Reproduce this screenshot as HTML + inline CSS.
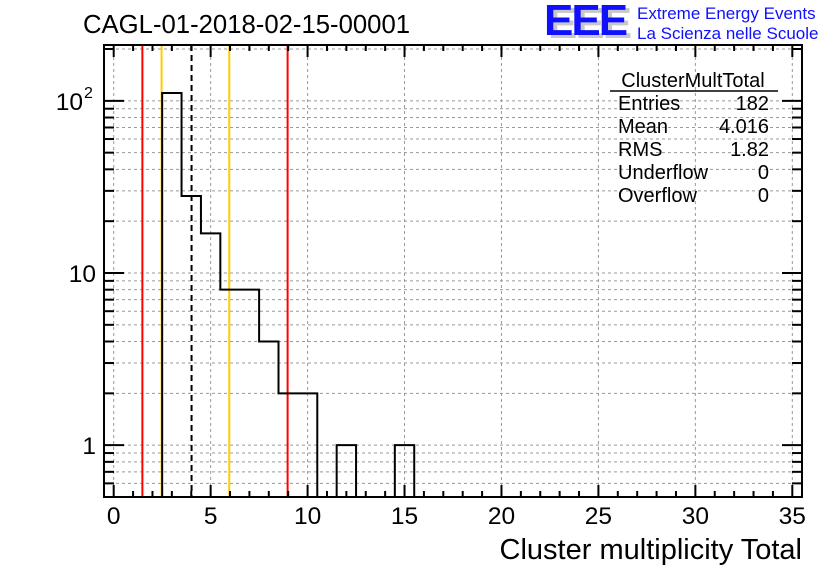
<!DOCTYPE html>
<html><head><meta charset="utf-8"><style>
body{margin:0;background:#fff;}
svg{display:block;font-family:"Liberation Sans",Arial,sans-serif;}
</style></head><body>
<svg id="chart" width="836" height="572" viewBox="0 0 836 572" xmlns="http://www.w3.org/2000/svg">
<rect width="836" height="572" fill="#fff"/>
<g id="grid"></g>
<g id="marks"></g>
<g id="axes"></g>
<text x="83" y="33" font-size="25.7">CAGL-01-2018-02-15-00001</text>
<g>
<text x="548" y="38" font-size="44" font-weight="bold" fill="#c8c8c8" letter-spacing="-2">EEE</text>
<text x="544" y="35" font-size="44" font-weight="bold" fill="#1010ff" letter-spacing="-2">EEE</text>
<text x="637" y="19" font-size="17" fill="#1010ff">Extreme Energy Events</text>
<text x="637" y="39" font-size="17" fill="#1010ff">La Scienza nelle Scuole</text>
</g>
<g font-size="20">
<text x="693" y="87" text-anchor="middle">ClusterMultTotal</text>
<line x1="610" y1="91" x2="778" y2="91" stroke="#000" stroke-width="1.5"/>
<text x="618" y="110">Entries</text><text x="769" y="110" text-anchor="end">182</text>
<text x="618" y="133">Mean</text><text x="769" y="133" text-anchor="end">4.016</text>
<text x="618" y="156">RMS</text><text x="769" y="156" text-anchor="end">1.82</text>
<text x="618" y="179">Underflow</text><text x="769" y="179" text-anchor="end">0</text>
<text x="618" y="202">Overflow</text><text x="769" y="202" text-anchor="end">0</text>
</g>
<text x="802" y="559" text-anchor="end" font-size="29">Cluster multiplicity Total</text>
</svg>
<script>
const binCenters=[3,4,5,6,7,8,9,10,11,12,13,14,15];
const binCounts=[111,28,17,8,8,4,2,2,0,1,0,0,1];
const xTicks=[0,5,10,15,20,25,30,35];
const yMajor=[1,10,100];
const refLines=[{x:1.48,c:"#ff0000"},{x:8.97,c:"#ff0000"},{x:2.47,c:"#ffcc00"},{x:5.96,c:"#ffcc00"}];
const meanVal=4.016;
const L=104,R=802,T=45,B=497;
const xmin=-0.5,xmax=35.5,ymin=0.5,ymax=211;
function X(v){return L+(v-xmin)/(xmax-xmin)*(R-L);}
function Y(v){return B-(Math.log10(v)-Math.log10(ymin))/(Math.log10(ymax)-Math.log10(ymin))*(B-T);}
const NS="http://www.w3.org/2000/svg";
function mk(p,t,a){const e=document.createElementNS(NS,t);for(const k in a)e.setAttribute(k,a[k]);p.appendChild(e);return e;}
const grid=document.getElementById('grid'),marks=document.getElementById('marks'),axes=document.getElementById('axes');
const yVals=[];for(let d=-1;d<=2;d++)for(let m=1;m<=9;m++){const v=m*Math.pow(10,d);if(v>=ymin&&v<=ymax)yVals.push(v);}
yVals.push(200);
for(const v of yVals){const g=mk(grid,'line',{x1:L,x2:R,y1:Y(v),y2:Y(v),stroke:'#999','stroke-dasharray':'3,3','stroke-width':1});

}
for(const t of xTicks){const g=mk(grid,'line',{x1:X(t),x2:X(t),y1:T,y2:B,stroke:'#999','stroke-dasharray':'3,3','stroke-width':1});

}
for(const r of refLines){const l=mk(marks,'line',{x1:X(r.x),x2:X(r.x),y1:T,y2:B,stroke:r.c,'stroke-width':2});

}
const ml=mk(marks,'line',{x1:X(meanVal),x2:X(meanVal),y1:T,y2:B,stroke:'#000','stroke-width':2,'stroke-dasharray':'6,4'});


let d='',prev=0;
for(let i=0;i<binCenters.length;i++){
 const x0=X(binCenters[i]-0.5),x1=X(binCenters[i]+0.5),c=binCounts[i];
 const yc=c>0?Y(c):B;
 const yp=prev>0?Y(prev):B;
 d+=(i===0?`M${x0},${B}`:'')+`L${x0},${yp}L${x0},${yc}L${x1},${yc}`;
 prev=c;
}
d+=`L${X(binCenters[binCenters.length-1]+0.5)},${B}`;
const h=mk(marks,'path',{d:d,fill:'none',stroke:'#000','stroke-width':2});


const fr=mk(axes,'rect',{x:L,y:T,width:R-L,height:B-T,fill:'none',stroke:'#000','stroke-width':2});


for(let v=0;v<=35;v++){const len=v%5===0?12:6;
 const a=mk(axes,'line',{x1:X(v),x2:X(v),y1:B,y2:B-len,stroke:'#000','stroke-width':2});
 
 
 const b=mk(axes,'line',{x1:X(v),x2:X(v),y1:T,y2:T+len,stroke:'#000','stroke-width':2});
 
 }
for(const t of xTicks){const tx=mk(axes,'text',{x:X(t),y:524,'text-anchor':'middle','font-size':24.5});tx.textContent=t;
 
 }
for(const v of yVals){const len=yMajor.includes(v)?20:10;
 const a=mk(axes,'line',{x1:L,x2:L+len,y1:Y(v),y2:Y(v),stroke:'#000','stroke-width':2});
 
 
 const b=mk(axes,'line',{x1:R,x2:R-len,y1:Y(v),y2:Y(v),stroke:'#000','stroke-width':2});
 
 }
const ylab=[{v:1,t:'1'},{v:10,t:'10'}];
for(const o of ylab){const tx=mk(axes,'text',{x:96,y:Y(o.v)+9,'text-anchor':'end','font-size':24.5});tx.textContent=o.t;
 
 }
const t2=mk(axes,'text',{x:83,y:Y(100)+9,'text-anchor':'end','font-size':24.5});t2.textContent='10';


const sup=mk(axes,'text',{x:84,y:Y(100)-3,'font-size':16});sup.textContent='2';


</script>
</body></html>
